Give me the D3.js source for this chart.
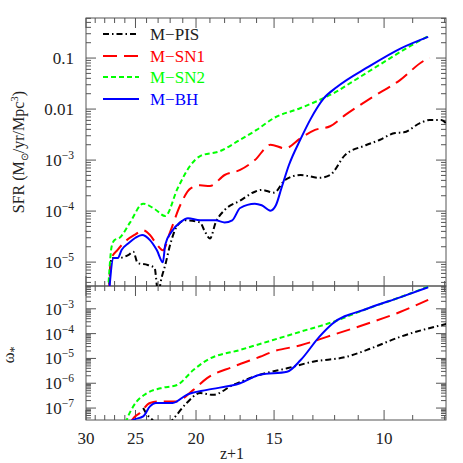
<!DOCTYPE html><html><head><meta charset="utf-8">
<script src="https://cdn.jsdelivr.net/npm/d3@7"></script>
<style>body{margin:0;background:#fff}text{font-family:"Liberation Serif",serif}</style></head><body>
<svg id="c" width="463" height="463"></svg>
<script>
const seriesNames=["M\u2212PIS","M\u2212SN1","M\u2212SN2","M\u2212BH"];
const colors=["#000","#f00","#0f0","#00f"];
const dashes=["6,3,1.5,3","14,7","5,3",null];
// top panel: SFR [z+1, value]
const sfrPIS=[[27.6,2e-6],[27.3,1.2e-5],[26.7,1.2e-5],[25.6,1.4e-5],[25.2,1.6e-5],[24.8,9.6e-6],[23.9,8.8e-6],[23.3,7.7e-6],[23.0,2.5e-6],[22.7,5e-6],[22.4,8.8e-6],[22.0,2.2e-5],[21.4,5.3e-5],[20.8,6.6e-5],[19.7,6e-5],[19.4,4.2e-5],[19.0,2.9e-5],[18.6,6e-5],[18,1.05e-4],[17,1.6e-4],[16.1,2.4e-4],[15.7,2.6e-4],[15,2.3e-4],[14.4,4.1e-4],[13.6,5.1e-4],[12.7,4.5e-4],[12.2,5.1e-4],[11.55,1.25e-3],[10.7,1.95e-3],[10.15,2.5e-3],[9.6,3.4e-3],[9.3,3.5e-3],[8.76,5.3e-3],[8.45,6.1e-3],[8.1,6.1e-3],[7.96,5.3e-3]];
const sfrSN1=[[27.6,2e-6],[27.3,1.2e-5],[26.7,1.74e-5],[26.0,2.5e-5],[25.0,3.5e-5],[24.3,4.2e-5],[23.7,3.4e-5],[23.1,2.2e-5],[22.6,1.7e-5],[22.0,3.9e-5],[21.2,1.3e-4],[20.4,2.8e-4],[19.7,3.2e-4],[19.0,3.1e-4],[18.0,5.1e-4],[17,6.4e-4],[16.1,1e-3],[15.2,2e-3],[14.4,1.7e-3],[13.6,2.7e-3],[12.9,3.9e-3],[12.2,4.6e-3],[11.55,7.6e-3],[10.5,1.64e-2],[9.43,3.7e-2],[8.6,9.1e-2],[8.45,0.1]];
const sfrSN2=[[27.6,4e-6],[27.3,2e-5],[27,2.7e-5],[26.5,3e-5],[25.5,6e-5],[24.3,1.4e-4],[23.3,1.1e-4],[22.4,8e-5],[21.4,2.8e-4],[20.4,8e-4],[19.7,1.2e-3],[18.3,1.5e-3],[17,2.5e-3],[16,3.9e-3],[15,6.7e-3],[13.6,1.05e-2],[12.7,1.5e-2],[12,2.1e-2],[11.3,3.3e-2],[10.15,7.5e-2],[9.1,0.17],[8.45,0.28]];
const sfrBH=[[27.6,2e-6],[27.1,1.2e-5],[26.7,1.2e-5],[26.3,1.74e-5],[25.6,2.4e-5],[25,3e-5],[24.4,3.4e-5],[23.7,2.7e-5],[23.1,1.7e-5],[22.6,9.9e-6],[22.4,2.2e-5],[21.9,3.9e-5],[21.2,6e-5],[20.6,7.2e-5],[19.7,6.6e-5],[18.6,6.6e-5],[18,6e-5],[17.5,6.6e-5],[17,1.15e-4],[16.1,1.4e-4],[15.7,1.3e-4],[15.2,1.02e-4],[14.9,1.3e-4],[14.6,2.8e-4],[14.2,8e-4],[13.6,2.6e-3],[13.1,6.5e-3],[12.5,1.6e-2],[11.9,2.7e-2],[10.6,6.7e-2],[9.4,0.155],[8.5,0.26]];
// bottom panel: omega_*
const omPIS=[[24.3,1e-7],[23.95,5.4e-8],[23.5,3.4e-8],[22.8,1.2e-8],[21.8,3.4e-8],[20.7,1.6e-7],[19.7,4e-7],[18.8,3.4e-7],[17.45,8.5e-7],[15.8,2.2e-6],[14.3,4e-6],[13.0,7.4e-6],[11.47,1.17e-5],[10.65,2.2e-5],[9.43,7.4e-5],[7.93,2.5e-4]];
const omSN1=[[25.4,2.5e-8],[25.3,3.4e-8],[24.6,6.3e-8],[23.7,1.6e-7],[22.9,1.85e-7],[21.5,1.85e-7],[20.2,5.4e-7],[19.2,1.6e-6],[17.45,4.6e-6],[15.8,1.17e-5],[15.1,1.85e-5],[13.6,3.4e-5],[12.35,7.4e-5],[10.65,2.5e-4],[9.43,7.4e-4],[8.5,2.3e-3]];
const omSN2=[[25.9,2.5e-8],[25.8,3.4e-8],[25.2,1.17e-7],[23.95,4e-7],[22.8,6.3e-7],[21.45,8.5e-7],[20.2,3.4e-6],[19.2,8.6e-6],[17,2.2e-5],[15.1,5.4e-5],[13.6,1.2e-4],[12.1,2.9e-4],[10.65,1e-3],[9.43,2.9e-3],[8.5,7.8e-3]];
const omBH=[[25.4,2.5e-8],[25.3,3.2e-8],[24.3,4.6e-8],[23.7,1.17e-7],[23.2,1.6e-7],[21.8,1.6e-7],[20.7,3.4e-7],[19.2,5.4e-7],[17,1e-6],[15.8,2.2e-6],[14.3,2.9e-6],[13.6,8.6e-6],[12.7,7.4e-5],[12.1,2.5e-4],[10.65,1e-3],[9.43,2.9e-3],[8.5,7.4e-3]];
const xMajor=[30,25,20,15,10];
const sfrTicks=[0.1,0.01,1e-3,1e-4,1e-5];
const sfrTickLabels=["0.1","0.01","10^-3","10^-4","10^-5"];
const omTicks=[1e-3,1e-4,1e-5,1e-6,1e-7];
const omTickLabels=["10^-3","10^-4","10^-5","10^-6","10^-7"];

const svg=d3.select("#c");
const L=86,R=446,T=18,M=286,B=420;
const x=d3.scaleLog().domain([30,7.96]).range([L,R]);
const yT=d3.scaleLog().domain([3.4e-6,0.61]).range([M,T]);
const yB=d3.scaleLog().domain([3.3e-8,8.3e-3]).range([B,M]);
const defs=svg.append("defs");
defs.append("clipPath").attr("id","cT").append("rect").attr("x",L).attr("y",T).attr("width",R-L).attr("height",M-T);
defs.append("clipPath").attr("id","cB").append("rect").attr("x",L).attr("y",M).attr("width",R-L).attr("height",B-M);

function label(g,s,xp,yp,anchor,size){
  const t=g.append("text").attr("x",xp).attr("y",yp).attr("text-anchor",anchor).attr("font-size",size).attr("fill","#222");
  const m=s.split("^");
  t.append("tspan").text(m[0]);
  if(m[1]) t.append("tspan").attr("dy",-7).attr("font-size",size*0.68).text(m[1].replace("-","\u2212"));
}
function panel(y,top,bot,ticks,labels){
  const g=svg.append("g");
  g.append("rect").attr("x",L).attr("y",top).attr("width",R-L).attr("height",bot-top).attr("fill","none").attr("stroke","#555").attr("stroke-width",1);
  for(let v=8;v<=30;v++){
    const len=xMajor.includes(v)?10:5;
    g.append("line").attr("x1",x(v)).attr("x2",x(v)).attr("y1",bot).attr("y2",bot-len).attr("stroke","#555");
    g.append("line").attr("x1",x(v)).attr("x2",x(v)).attr("y1",top).attr("y2",top+len).attr("stroke","#555");
  }
  const [d0,d1]=y.domain();
  for(let e=Math.floor(Math.log10(d0));e<=Math.ceil(Math.log10(d1));e++){
    for(let k=1;k<10;k++){
      const v=k*Math.pow(10,e); if(v<d0||v>d1) continue;
      const len=k===1?10:5;
      g.append("line").attr("x1",L).attr("x2",L+len).attr("y1",y(v)).attr("y2",y(v)).attr("stroke","#555");
      g.append("line").attr("x1",R).attr("x2",R-len).attr("y1",y(v)).attr("y2",y(v)).attr("stroke","#555");
    }
  }
  ticks.forEach((t,i)=>label(g,labels[i],L-12,y(t)+6,"end",17));
}
panel(yT,T,M,sfrTicks,sfrTickLabels);
panel(yB,M,B,omTicks,omTickLabels);
xMajor.forEach(v=>label(svg,String(v),x(v),444,"middle",17));
svg.append("text").attr("x",232).attr("y",459).attr("text-anchor","middle").attr("font-size",16).attr("fill","#222").text("z+1");
const yl=svg.append("text").attr("transform","translate(24,152) rotate(-90)").attr("text-anchor","middle").attr("font-size",16).attr("fill","#222");
yl.append("tspan").text("SFR (M");
yl.append("tspan").attr("font-size",10).attr("dy",4).text("\u2299");
yl.append("tspan").attr("dy",-4).text("/yr/Mpc");
yl.append("tspan").attr("font-size",11).attr("dy",-6).text("3");
yl.append("tspan").attr("dy",6).text(")");
const ol=svg.append("text").attr("transform","translate(14,355) rotate(-90)").attr("text-anchor","middle").attr("font-size",17).attr("fill","#222");
ol.append("tspan").text("\u03c9");ol.append("tspan").attr("font-size",12).attr("dy",4).text("*");

const topData=[sfrPIS,sfrSN1,sfrSN2,sfrBH], botData=[omPIS,omSN1,omSN2,omBH];
function draw(data,y,clip){
  const line=d3.line().x(d=>x(d[0])).y(d=>y(d[1])).curve(d3.curveMonotoneX);
  const g=svg.append("g").attr("clip-path",`url(#${clip})`);
  data.forEach((d,i)=>g.append("path").attr("d",line(d)).attr("fill","none").attr("stroke",colors[i]).attr("stroke-width",2).attr("stroke-dasharray",dashes[i]));
}
draw(topData,yT,"cT");draw(botData,yB,"cB");
const lg=svg.append("g");
[34,56,77,99].forEach((yy,i)=>{
  lg.append("line").attr("x1",103).attr("x2",139).attr("y1",yy).attr("y2",yy).attr("stroke",colors[i]).attr("stroke-width",2).attr("stroke-dasharray",dashes[i]);
  lg.append("text").attr("x",150).attr("y",yy+6).attr("font-size",17).attr("fill",colors[i]==="#000"?"#222":colors[i]).text(seriesNames[i]);
});
</script></body></html>
